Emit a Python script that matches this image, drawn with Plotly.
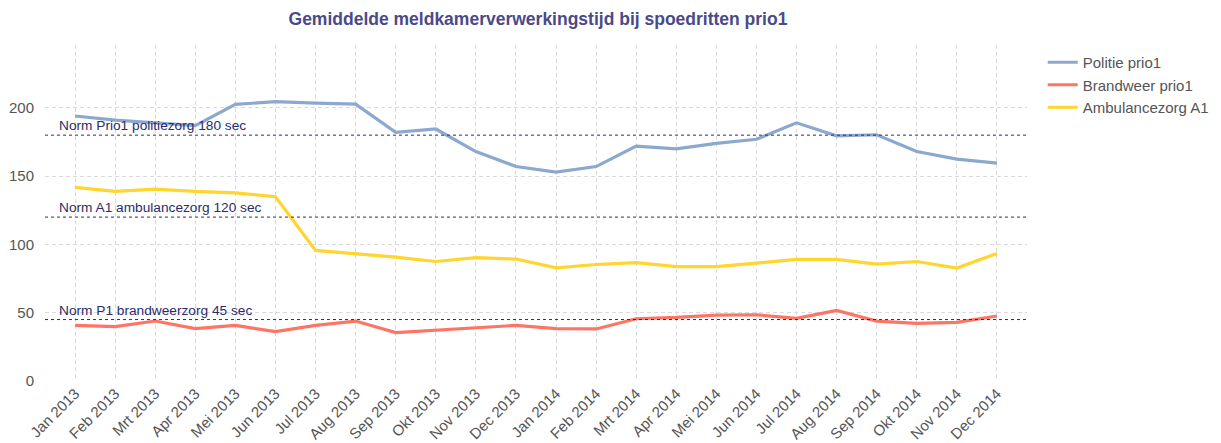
import plotly.graph_objects as go

months = ["Jan 2013", "Feb 2013", "Mrt 2013", "Apr 2013", "Mei 2013", "Jun 2013",
          "Jul 2013", "Aug 2013", "Sep 2013", "Okt 2013", "Nov 2013", "Dec 2013",
          "Jan 2014", "Feb 2014", "Mrt 2014", "Apr 2014", "Mei 2014", "Jun 2014",
          "Jul 2014", "Aug 2014", "Sep 2014", "Okt 2014", "Nov 2014", "Dec 2014"]

politie = [194, 191, 189, 187, 202.5, 204.5, 203.5, 202.7, 182, 184.5, 168, 157,
           153, 157, 172, 170, 174, 177, 189, 179.5, 180.3, 168, 162.5, 159.5]
brandweer = [40.7, 39.8, 43.9, 38.3, 40.7, 36.1, 40.7, 43.9, 35.4, 37.3, 39.3, 40.7,
             38.3, 38.1, 45.6, 46.6, 48.3, 48.5, 45.8, 51.7, 43.9, 42.2, 42.9, 47.6]
ambulance = [141.7, 138.8, 140.5, 138.8, 137.8, 134.9, 95.6, 93.4, 90.7, 87.5, 90.3, 89.3,
             82.9, 85.3, 86.6, 83.7, 83.7, 86.3, 89, 89, 85.6, 87.5, 82.7, 93.4]

norm_values = [180, 120, 45]
norm_labels = ["Norm Prio1 politiezorg 180 sec", "Norm A1 ambulancezorg 120 sec",
               "Norm P1 brandweerzorg 45 sec"]

series = [("Politie prio1", politie, "#8CA8CE"),
          ("Brandweer prio1", brandweer, "#FF7565"),
          ("Ambulancezorg A1", ambulance, "#FFD52E")]

x_idx = list(range(len(months)))
FONT = "Liberation Sans, Arial"

fig = go.Figure()
for name, vals, col in series:
    fig.add_trace(go.Scatter(x=x_idx, y=vals, mode="lines", name=name,
                             line=dict(color=col, width=3.2)))

for v, lab in zip(norm_values, norm_labels):
    fig.add_shape(type="line", xref="paper", x0=0, x1=1, yref="y", y0=v, y1=v,
                  line=dict(color="#2B2B6E", width=1, dash="dot"), layer="above")
    fig.add_annotation(xref="paper", x=0.012, yref="y", y=v, text=lab,
                       showarrow=False, xanchor="left", yanchor="bottom", yshift=0,
                       font=dict(family=FONT, size=13.7, color="#2B2B6E"))

fig.update_layout(
    width=1221, height=443,
    margin=dict(l=45, r=194, t=45, b=62, autoexpand=False),
    paper_bgcolor="white", plot_bgcolor="white",
    title=dict(text="<b>Gemiddelde meldkamerverwerkingstijd bij spoedritten prio1</b>",
               x=0.502, xanchor="center", xref="paper", y=0.958, yanchor="middle",
               font=dict(family=FONT, size=17.5, color="#4A4A8A")),
    legend=dict(x=1.016, xanchor="left", y=0.997, yanchor="top",
                font=dict(family=FONT, size=15, color="#555555"),
                bgcolor="rgba(0,0,0,0)", tracegroupgap=0),
    showlegend=True,
)

fig.update_xaxes(range=[-0.75, 23.75], tickmode="array", tickvals=x_idx, ticktext=months,
                 tickangle=-45, showgrid=True, gridcolor="#DADADA", griddash="4px,3px",
                 gridwidth=1, zeroline=False, showline=False, ticks="", automargin=False,
                 tickfont=dict(family=FONT, size=15, color="#555555"))
fig.update_yaxes(range=[0, 246], tickmode="array", tickvals=[0, 50, 100, 150, 200],
                 showgrid=True, gridcolor="#DADADA", griddash="4px,3px", gridwidth=1,
                 zeroline=False, showline=False, ticks="", ticklabelstandoff=10,
                 automargin=False,
                 tickfont=dict(family=FONT, size=15, color="#555555"))

fig.write_html("out.html", config={"displayModeBar": False},
               post_script="document.body.style.margin='0';")
